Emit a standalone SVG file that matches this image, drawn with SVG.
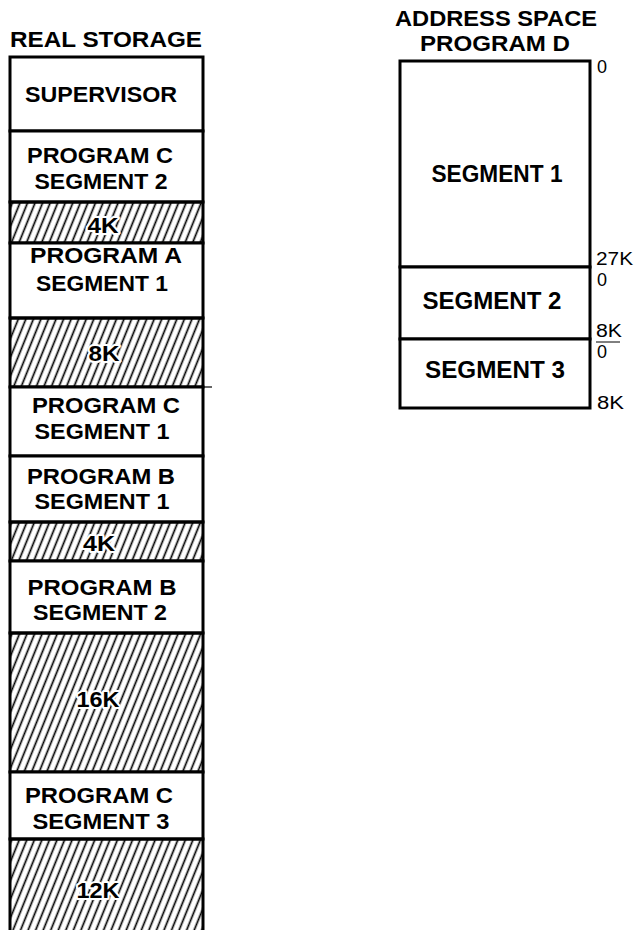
<svg xmlns="http://www.w3.org/2000/svg" width="634" height="930" viewBox="0 0 634 930">
<style>
.blk{fill:#fff;stroke:#000;stroke-width:3}
.hat{fill:url(#hatch);stroke:#000;stroke-width:3}
.lbl{font-family:"Liberation Sans",Arial,sans-serif;font-weight:bold;font-size:22px;fill:#000;text-anchor:middle}
.rl{font-size:23px}
.hl{stroke:#fff;stroke-width:4;paint-order:stroke;stroke-linejoin:round}
.ttl{font-family:"Liberation Sans",Arial,sans-serif;font-weight:bold;font-size:22px;fill:#000;text-anchor:middle}
.tick{font-family:"Liberation Sans",Arial,sans-serif;font-size:18px;fill:#000}
</style>
<defs>
<pattern id="hatch" width="7" height="10" patternUnits="userSpaceOnUse" patternTransform="rotate(22)">
<line x1="3.5" y1="0" x2="3.5" y2="10" stroke="#000" stroke-width="1.7"/>
</pattern>
</defs>
<rect width="634" height="930" fill="#fff"/>

<g id="titles">
<text class="ttl" x="106" y="47" textLength="192" lengthAdjust="spacingAndGlyphs">REAL STORAGE</text>
<text class="ttl" x="496" y="26" textLength="202" lengthAdjust="spacingAndGlyphs">ADDRESS SPACE</text>
<text class="ttl" x="495" y="51" textLength="150" lengthAdjust="spacingAndGlyphs">PROGRAM D</text>
</g>

<g id="real-storage">
<g id="supervisor"><rect class="blk" x="10" y="57" width="193" height="74"/>
<text class="lbl" x="101" y="102" textLength="152" lengthAdjust="spacingAndGlyphs">SUPERVISOR</text></g>
<g id="progc-seg2"><rect class="blk" x="10" y="131" width="193" height="71"/>
<text class="lbl" x="100" y="163" textLength="146" lengthAdjust="spacingAndGlyphs">PROGRAM C</text>
<text class="lbl" x="101" y="189" textLength="133" lengthAdjust="spacingAndGlyphs">SEGMENT 2</text></g>
<g id="free-4k-a"><rect class="hat" x="10" y="202" width="193" height="41"/>
<text class="lbl hl" x="103" y="233" textLength="31" lengthAdjust="spacingAndGlyphs">4K</text></g>
<g id="proga-seg1"><rect class="blk" x="10" y="243" width="193" height="75"/>
<text class="lbl" x="106" y="263" textLength="152" lengthAdjust="spacingAndGlyphs">PROGRAM A</text>
<text class="lbl" x="102" y="291" textLength="132" lengthAdjust="spacingAndGlyphs">SEGMENT 1</text></g>
<g id="free-8k"><rect class="hat" x="10" y="318" width="193" height="69"/>
<text class="lbl hl" x="104" y="361" textLength="31" lengthAdjust="spacingAndGlyphs">8K</text></g>
<g id="progc-seg1"><rect class="blk" x="10" y="387" width="193" height="69"/>
<text class="lbl" x="106" y="413" textLength="148" lengthAdjust="spacingAndGlyphs">PROGRAM C</text>
<text class="lbl" x="102" y="439" textLength="135" lengthAdjust="spacingAndGlyphs">SEGMENT 1</text></g>
<g id="progb-seg1"><rect class="blk" x="10" y="456" width="193" height="66"/>
<text class="lbl" x="101" y="484" textLength="148" lengthAdjust="spacingAndGlyphs">PROGRAM B</text>
<text class="lbl" x="102" y="509" textLength="135" lengthAdjust="spacingAndGlyphs">SEGMENT 1</text></g>
<g id="free-4k-b"><rect class="hat" x="10" y="522" width="193" height="39"/>
<text class="lbl hl" x="99" y="551" textLength="32" lengthAdjust="spacingAndGlyphs">4K</text></g>
<g id="progb-seg2"><rect class="blk" x="10" y="561" width="193" height="72"/>
<text class="lbl" x="102" y="595" textLength="149" lengthAdjust="spacingAndGlyphs">PROGRAM B</text>
<text class="lbl" x="100" y="620" textLength="134" lengthAdjust="spacingAndGlyphs">SEGMENT 2</text></g>
<g id="free-16k"><rect class="hat" x="10" y="633" width="193" height="139"/>
<text class="lbl hl" x="98" y="707" textLength="43" lengthAdjust="spacingAndGlyphs">16K</text></g>
<g id="progc-seg3"><rect class="blk" x="10" y="772" width="193" height="67"/>
<text class="lbl" x="99" y="803" textLength="148" lengthAdjust="spacingAndGlyphs">PROGRAM C</text>
<text class="lbl" x="101" y="829" textLength="137" lengthAdjust="spacingAndGlyphs">SEGMENT 3</text></g>
<g id="free-12k"><rect class="hat" x="10" y="839" width="193" height="100"/>
<text class="lbl hl" x="98" y="898" textLength="43" lengthAdjust="spacingAndGlyphs">12K</text></g>
</g>

<g id="address-space">
<g id="d-seg1"><rect class="blk" x="400" y="61" width="190" height="206"/>
<text class="lbl rl" x="497" y="182" textLength="131" lengthAdjust="spacingAndGlyphs">SEGMENT 1</text></g>
<g id="d-seg2"><rect class="blk" x="400" y="267" width="190" height="72"/>
<text class="lbl rl" x="492" y="309" textLength="139" lengthAdjust="spacingAndGlyphs">SEGMENT 2</text></g>
<g id="d-seg3"><rect class="blk" x="400" y="339" width="190" height="69"/>
<text class="lbl rl" x="495" y="378" textLength="140" lengthAdjust="spacingAndGlyphs">SEGMENT 3</text></g>
<g id="ticks">
<text class="tick" x="597" y="73">0</text>
<text class="tick" x="596" y="265" textLength="37" lengthAdjust="spacingAndGlyphs">27K</text>
<text class="tick" x="597" y="286">0</text>
<text class="tick" x="596" y="337" textLength="26" lengthAdjust="spacingAndGlyphs">8K</text>
<text class="tick" x="597" y="358">0</text>
<text class="tick" x="597" y="409" textLength="27" lengthAdjust="spacingAndGlyphs">8K</text>
</g>
</g>

<g id="connectors" stroke="#000" fill="none">
<line x1="203" y1="387" x2="212" y2="387" stroke-width="1.2"/>
<line x1="596" y1="342" x2="620" y2="342" stroke-width="1"/>
</g>
</svg>
